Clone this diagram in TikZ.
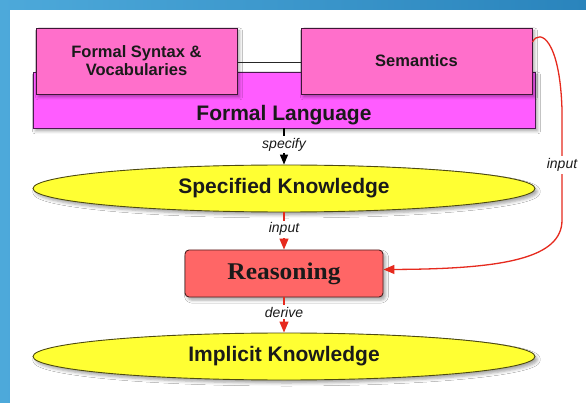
\documentclass[tikz,border=0pt]{standalone}
\usepackage{fontspec}
\newfontfamily\sansfont{Liberation Sans}
\newfontfamily\reasonfont{Liberation Serif}[FakeStretch=1.06]
\usetikzlibrary{shapes.geometric,arrows.meta,shadows.blur}

\definecolor{bgdark}{HTML}{2A84BC}
\definecolor{bglight}{HTML}{4DA9DA}
\definecolor{pinkfill}{HTML}{FF6FCB}
\definecolor{pinkedge}{HTML}{3E1636}
\definecolor{magfill}{HTML}{FF5CFF}
\definecolor{magedge}{HTML}{4A1A50}
\definecolor{yelfill}{HTML}{FFFF33}
\definecolor{yeledge}{HTML}{4E4A10}
\definecolor{redfill}{HTML}{FF6666}
\definecolor{rededge}{HTML}{4E2020}
\definecolor{arrowred}{HTML}{E62A1E}
\definecolor{inktext}{HTML}{1A1A1A}

\begin{document}
\begin{tikzpicture}[x=1pt,y=-1pt,
  softshadow/.style={blur shadow={shadow xshift=2.5pt,shadow yshift=-3pt,
      shadow blur radius=3pt,shadow opacity=35}},
  topbox/.style={draw=pinkedge,fill=pinkfill,line width=0.9pt,inner sep=0pt,
      minimum height=66pt,align=center,text=inktext,softshadow,
      font=\sansfont\bfseries\fontsize{16.5}{18}\selectfont},
  flbox/.style={draw=magedge,fill=magfill,line width=0.9pt,inner sep=0pt,
      minimum width=502pt,minimum height=56pt,softshadow},
  bigtext/.style={text=inktext,inner sep=0pt,
      font=\sansfont\bfseries\fontsize{21}{24}\selectfont},
  ovalbox/.style={ellipse,draw=yeledge,fill=yelfill,line width=0.9pt,inner sep=0pt,
      minimum width=502pt,minimum height=47pt,softshadow,bigtext},
  reasonbox/.style={draw=rededge,fill=redfill,line width=0.9pt,rounded corners=4pt,
      inner sep=0pt,minimum width=198pt,minimum height=47pt,softshadow,text=inktext,
      font=\reasonfont\bfseries\fontsize{24}{28}\selectfont},
  lbl/.style={fill=white,inner sep=2pt,text=inktext,
      font=\sansfont\itshape\fontsize{14}{16}\selectfont},
  blackarrow/.style={line width=1.3pt,draw=black,-{Triangle[length=10pt,width=8pt]}},
  redarrow/.style={line width=1.3pt,draw=arrowred,-{Triangle[length=11pt,width=9pt]}},
  link/.style={line width=1.5pt,draw=black!85}
]
\useasboundingbox (0,0) rectangle (586,403);

% backdrop: blue frame and white panel
\fill[left color=bglight,right color=bgdark] (0,0) rectangle (586,403);
\fill[white] (10,10) rectangle (586,403);

% formal language block with its two parts
\node[flbox] (fl) at (284,100) {};
\node[bigtext] (fltext) at (284,115) {Formal Language};
\node[topbox,minimum width=201pt] (syn) at (136.5,61) {Formal Syntax \&\\Vocabularies};
\node[topbox,minimum width=231pt] (sem) at (416.5,61) {Semantics};
\draw[link] ([yshift=-1.5pt]syn.east) -- ([yshift=-1.5pt]sem.west);

% knowledge and reasoning
\node[ovalbox] (sk) at (284,188.5) {Specified Knowledge};
\node[reasonbox] (rs) at (284,273.5) {Reasoning};
\node[ovalbox] (ik) at (284,356.5) {Implicit Knowledge};

% connectors
\draw[blackarrow] (fl.south) -- node[lbl,pos=0.45] {specify} (sk.north);
\draw[redarrow] (sk.south) -- node[lbl,pos=0.45] {input} (rs.north);
\draw[redarrow] (rs.south) -- node[lbl,pos=0.42] {derive} (ik.north);
\draw[redarrow] ([yshift=19pt]sem.east) .. controls (540,28) and (560,40) .. (562,110)
  -- node[lbl] {input} (562,220)
  .. controls (562,258) and (505,269) .. ([yshift=4pt]rs.east);
\end{tikzpicture}
\end{document}
